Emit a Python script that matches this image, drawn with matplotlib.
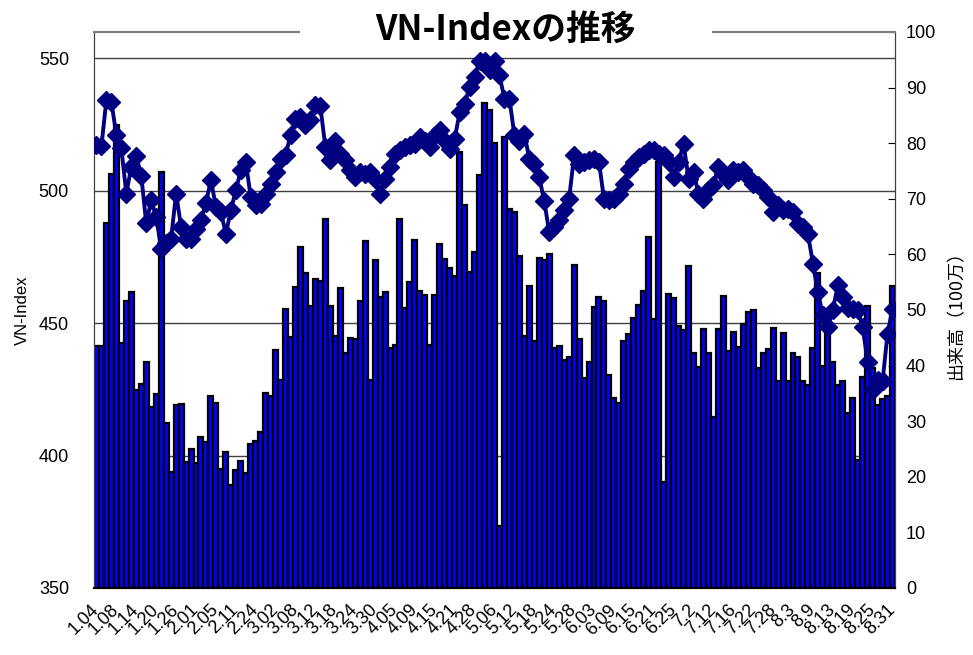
import numpy as np
import matplotlib.pyplot as plt
from matplotlib.patches import Rectangle

# VN-Index終値
vn_index = [
    517.2, 517.0, 534.5, 533.5, 521.0, 516.0, 499.0, 509.0, 513.0, 505.8,
    487.7, 496.4, 490.1, 478.2, 480.2, 482.0, 499.0, 486.4, 482.0, 482.0,
    485.5, 488.9, 495.4, 504.2, 493.9, 492.0, 483.8, 492.6, 500.2, 507.7,
    510.9, 497.7, 494.5, 495.2, 498.9, 502.7, 507.1, 512.1, 513.4, 521.0,
    527.2, 527.9, 524.7, 526.6, 532.3, 531.9, 516.6, 511.5, 519.0, 514.0,
    511.5, 507.7, 505.2, 507.0, 506.5, 507.0, 504.6, 499.0, 504.6, 509.0,
    514.0, 515.3, 516.6, 517.2, 517.8, 520.3, 519.0, 516.6, 521.0, 522.8,
    519.0, 515.9, 519.7, 529.7, 532.9, 539.2, 543.0, 549.2, 549.2, 545.5,
    549.2, 543.6, 534.8, 534.8, 521.0, 519.0, 521.6, 512.1, 510.2, 505.2,
    496.0, 484.5, 486.4, 488.9, 492.6, 497.0, 513.4, 510.2, 510.9, 511.5,
    512.1, 510.9, 497.0, 496.4, 497.0, 499.0, 502.7, 508.4, 510.9, 512.8,
    514.0, 515.3, 515.3, 514.0, 513.4, 510.9, 505.2, 510.9, 517.8, 504.6,
    507.0, 499.0, 497.0, 500.2, 502.1, 509.0, 506.5, 504.0, 507.7, 507.0,
    507.7, 505.2, 502.7, 502.1, 500.2, 497.7, 492.0, 494.5, 492.6, 493.3,
    492.0, 487.6, 486.4, 483.8, 472.5, 461.8, 453.0, 448.6, 455.0, 464.3,
    460.0, 455.6, 455.5, 454.9, 448.6, 435.4, 424.7, 428.5, 428.0, 446.1,
    455.5,
]

# 出来高(100万株)
volume = [
    43.6, 43.6, 65.7, 74.5, 83.3, 44.0, 51.7, 53.3, 35.6, 36.7,
    40.6, 32.6, 34.9, 74.9, 29.7, 20.9, 32.9, 33.1, 22.7, 25.0,
    22.5, 27.2, 26.3, 34.6, 33.3, 21.4, 24.5, 18.5, 21.2, 22.9,
    20.7, 25.9, 26.4, 28.1, 35.1, 34.6, 42.8, 37.4, 50.2, 45.1,
    54.1, 61.4, 56.7, 50.7, 55.6, 55.3, 66.4, 50.7, 45.3, 54.0,
    42.2, 45.0, 44.8, 51.7, 62.4, 37.4, 59.0, 52.4, 53.3, 43.2,
    43.7, 66.4, 50.4, 55.1, 62.6, 53.4, 52.7, 43.7, 52.7, 61.9,
    59.2, 57.6, 56.2, 78.4, 68.9, 56.9, 60.5, 74.2, 87.2, 85.9,
    80.1, 11.2, 81.2, 68.2, 67.7, 59.7, 45.3, 54.4, 44.5, 59.3,
    59.0, 60.1, 43.2, 43.5, 41.0, 41.5, 58.1, 44.8, 37.8, 40.6,
    50.6, 52.4, 51.7, 38.3, 34.2, 33.3, 44.5, 45.7, 48.5, 50.9,
    53.5, 63.2, 48.4, 76.7, 19.1, 52.9, 52.2, 47.1, 46.4, 57.9,
    42.3, 39.8, 46.5, 42.3, 30.8, 46.5, 52.5, 42.7, 46.0, 43.4,
    47.5, 49.7, 50.0, 39.5, 42.3, 42.9, 46.8, 37.3, 45.8, 37.2,
    42.3, 41.5, 37.3, 36.5, 43.1, 56.7, 39.9, 45.8, 40.7, 36.6,
    37.2, 31.5, 34.1, 23.0, 38.0, 50.7, 39.6, 32.9, 34.0, 34.5,
    54.3,
]

# 4営業日ごとの日付ラベル
tick_labels = [
    '1.04', '1.08', '1.14', '1.20', '1.26', '2.01', '2.05', '2.11', '2.24',
    '3.02', '3.08', '3.12', '3.18', '3.24', '3.30', '4.05', '4.09', '4.15',
    '4.21', '4.28', '5.06', '5.12', '5.18', '5.24', '5.28', '6.03', '6.09',
    '6.15', '6.21', '6.25', '7.2', '7.12', '7.16', '7.22', '7.28', '8.3',
    '8.9', '8.13', '8.19', '8.25', '8.31',
]
tick_step = 4

vn_lo, vn_hi = 350, 560
vol_hi = 100

jp = ['Noto Sans CJK JP', 'DejaVu Sans']
num = ['Liberation Sans', 'DejaVu Sans']

x = np.arange(len(volume))

fig = plt.figure(figsize=(9.73, 6.55), dpi=100)
ax = fig.add_axes([94 / 973, 1 - 588 / 655, 801 / 973, 556 / 655])

# 出来高 (右軸)
ax.bar(x, volume, width=1.0, color='#0000FF', edgecolor='black',
       linewidth=1.6, zorder=2)
ax.set_xlim(-0.5, len(volume) - 0.5)
ax.set_ylim(0, vol_hi)
ax.set_yticks(np.arange(0, vol_hi + 1, 10))

# VN-Index の目盛線 (棒の後ろ)
for v in range(400, 551, 50):
    ax.axhline((v - vn_lo) / (vn_hi - vn_lo) * vol_hi, color='#404040',
               lw=1.0, zorder=1)

ax_vn = ax.twinx()
ax_vn.plot(x, vn_index, color='#000080', lw=2.8, marker='D', ms=9,
           mec='#000080', mfc='#000080', zorder=3)
ax_vn.set_ylim(vn_lo, vn_hi)
ax_vn.set_yticks(np.arange(350, 551, 50))

ax.yaxis.tick_right()
ax.yaxis.set_label_position('right')
ax_vn.yaxis.tick_left()
ax_vn.yaxis.set_label_position('left')

ax.set_xticks(x[::tick_step])
ax.set_xticklabels(tick_labels, rotation=45, ha='right', va='center',
                   rotation_mode='anchor', family=num, fontsize=13)
ax.tick_params(axis='x', length=0, pad=14)
ax.tick_params(axis='y', direction='in', length=5, pad=8, labelsize=13)
ax_vn.tick_params(axis='y', direction='in', length=0, pad=18, labelsize=13)
for lab in ax.get_yticklabels() + ax_vn.get_yticklabels():
    lab.set_family(num)

ax_vn.set_ylabel('VN-Index', fontsize=12, family=num, labelpad=6)
ax.set_ylabel('出来高（100万）', fontsize=13, family=jp, rotation=90,
              labelpad=8)

for a in (ax, ax_vn):
    for side in ('left', 'right'):
        a.spines[side].set_color('#404040')
    a.spines['top'].set_color('#808080')
    a.spines['top'].set_linewidth(1.5)
    a.spines['bottom'].set_color('black')
    a.spines['bottom'].set_linewidth(1.5)

# タイトル (枠線を隠す白地)
fig.add_artist(Rectangle((300 / 973, 1 - 48 / 655), 412 / 973, 36 / 655,
                         transform=fig.transFigure, facecolor='white',
                         edgecolor='none', zorder=5))
fig.text(505 / 973, 1 - 29 / 655, 'VN-Indexの推移', ha='center', va='center',
         fontsize=25, fontweight='bold', family=jp, zorder=6)

fig.savefig('out.png', dpi=100)
